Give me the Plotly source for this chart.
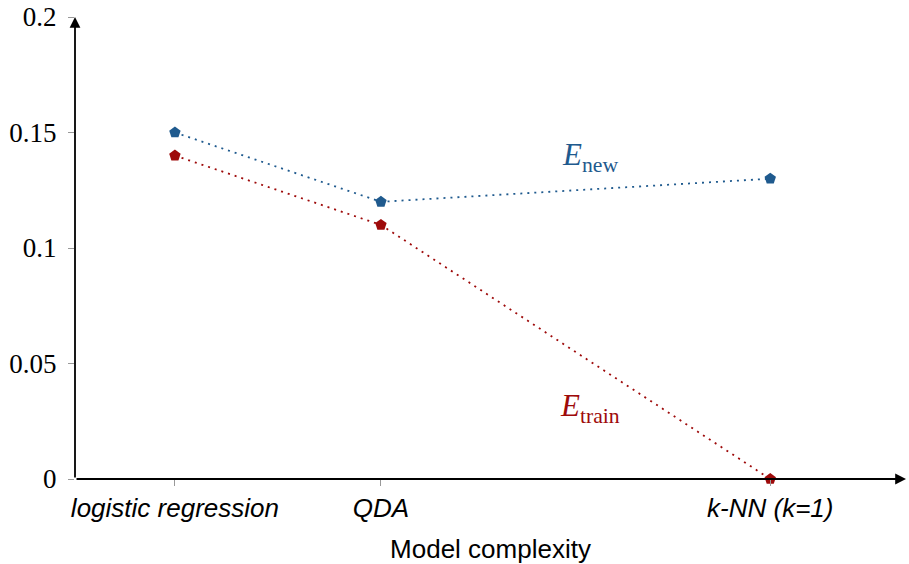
import plotly.graph_objects as go

categories = ["logistic regression", "QDA", "k-NN (k=1)"]
cat_pos = [1.0, 2.0, 3.89]
e_new = [0.15, 0.12, 0.13]
e_train = [0.14, 0.11, 0.0]
y_ticks = [0, 0.05, 0.1, 0.15, 0.2]
y_tick_labels = ["0", "0.05", "0.1", "0.15", "0.2"]

BLUE = "#1f5a8e"
RED = "#9e0a0a"

xlo, xhi = 0.515, 4.549
ylo, yhi = 0.0, 0.2

fig = go.Figure()
fig.add_trace(go.Scatter(x=cat_pos, y=e_new, mode="lines+markers",
                         line=dict(color=BLUE, width=1.8, dash="2px,5px"),
                         marker=dict(symbol="pentagon", size=12, color=BLUE),
                         cliponaxis=False, showlegend=False))
fig.add_trace(go.Scatter(x=cat_pos, y=e_train, mode="lines+markers",
                         line=dict(color=RED, width=1.8, dash="2px,5px"),
                         marker=dict(symbol="pentagon", size=12, color=RED),
                         cliponaxis=False, showlegend=False))

# axis lines with arrows
fig.add_annotation(x=xhi, y=0, ax=xlo, ay=0, xref="x", yref="y", axref="x", ayref="y",
                   text="", showarrow=True, arrowhead=2, arrowsize=1.2, arrowwidth=1.8,
                   arrowcolor="black", standoff=0)
fig.add_annotation(x=xlo, y=yhi, ax=xlo, ay=0, xref="x", yref="y", axref="x", ayref="y",
                   text="", showarrow=True, arrowhead=2, arrowsize=1.2, arrowwidth=1.8,
                   arrowcolor="black", standoff=0)

fig.add_annotation(x=3.015, y=0.1394, xref="x", yref="y", showarrow=False,
                   text="<i>E</i><sub>new</sub>",
                   font=dict(family="Liberation Serif", size=31, color=BLUE))
fig.add_annotation(x=3.015, y=0.0307, xref="x", yref="y", showarrow=False,
                   text="<i>E</i><sub>train</sub>",
                   font=dict(family="Liberation Serif", size=31, color=RED))

fig.update_layout(
    width=909, height=564,
    margin=dict(l=75, r=3, t=17, b=85),
    plot_bgcolor="white", paper_bgcolor="white",
    xaxis=dict(range=[xlo, xhi], tickvals=cat_pos,
               ticktext=["<i>%s</i>" % c for c in categories],
               tickfont=dict(family="Liberation Sans", size=26, color="black"),
               ticks="outside", ticklen=6, tickcolor="#999999", tickwidth=1,
               showgrid=False, zeroline=False, showline=False,
               title=dict(text="Model complexity", standoff=20,
                          font=dict(family="Liberation Sans", size=26, color="black"))),
    yaxis=dict(range=[ylo, yhi], tickvals=y_ticks, ticktext=y_tick_labels,
               tickfont=dict(family="Liberation Serif", size=27, color="black"),
               ticks="outside", ticklen=6, tickcolor="#999999", tickwidth=1,
               ticklabelstandoff=6,
               showgrid=False, zeroline=False, showline=False),
)

fig.write_html("out.html")
